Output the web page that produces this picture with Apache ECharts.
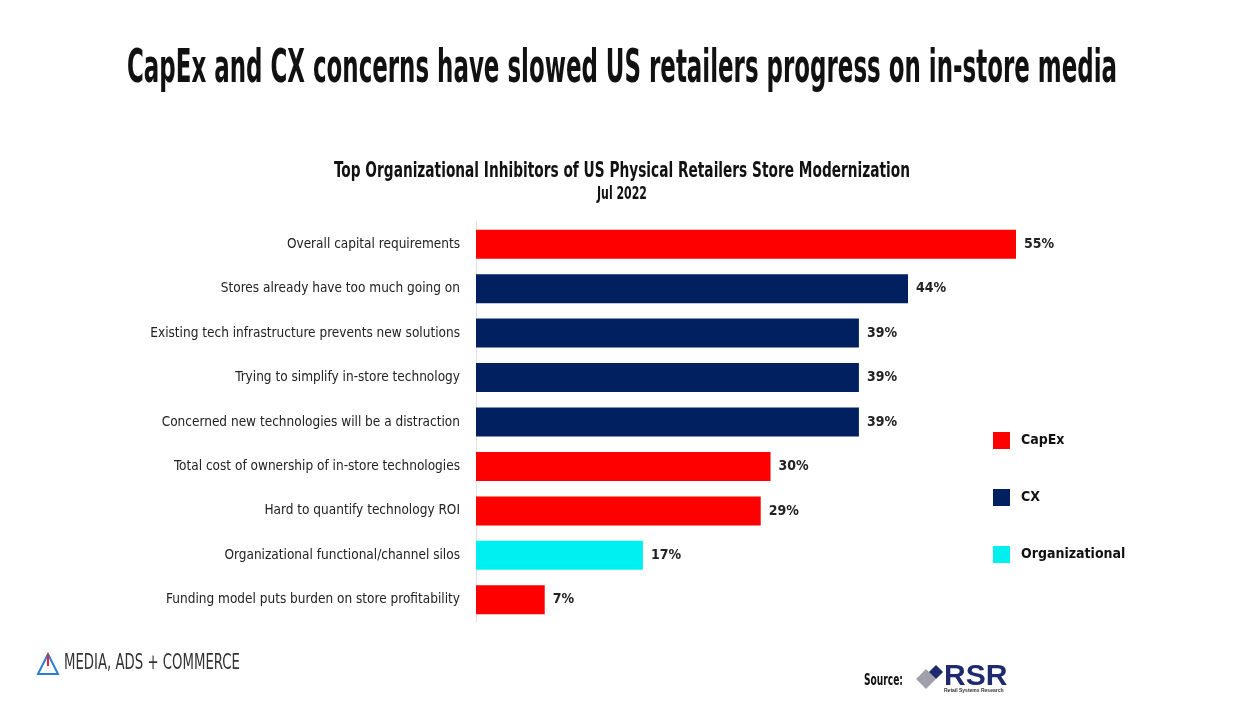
<!DOCTYPE html>
<html><head><meta charset="utf-8">
<script src="https://cdn.jsdelivr.net/npm/echarts@6/dist/echarts.min.js"></script>
<style>html,body{margin:0;padding:0;background:#fff}#c{width:1249px;height:702px}</style>
</head><body><div id="c"></div>
<script>
const categories = [
  "Overall capital requirements",
  "Stores already have too much going on",
  "Existing tech infrastructure prevents new solutions",
  "Trying to simplify in-store technology",
  "Concerned new technologies will be a distraction",
  "Total cost of ownership of in-store technologies",
  "Hard to quantify technology ROI",
  "Organizational functional/channel silos",
  "Funding model puts burden on store profitability"
];
const values = [55, 44, 39, 39, 39, 30, 29, 17, 7];
const groups = ["CapEx", "CX", "CX", "CX", "CX", "CapEx", "CapEx", "Organizational", "CapEx"];
const seriesNames = ["CapEx", "CX", "Organizational"];
const seriesColors = ["#ff0000", "#002060", "#00f0f0"];
const mainTitle = "CapEx and CX concerns have slowed US retailers progress on in-store media";
const chartTitle = "Top Organizational Inhibitors of US Physical Retailers Store Modernization";
const chartSubtitle = "Jul 2022";

const FONT = '"DejaVu Sans Condensed","Liberation Sans Narrow","Liberation Sans",sans-serif';
const mctx = document.createElement('canvas').getContext('2d');
function fitScale(text, font, target) { mctx.font = font; return target / mctx.measureText(text).width; }
function squeezed(text, font, cx, topY, targetW, fill) {
  const s = fitScale(text, font, targetW);
  return {type: 'text', x: cx, y: topY, scaleX: s, originX: 0,
          style: {text: text, font: font, fill: fill, textAlign: 'center', textVerticalAlign: 'top'}};
}

const chart = echarts.init(document.getElementById('c'), null, {renderer: 'canvas'});
const series = seriesNames.map((name, si) => ({
  name: name,
  type: 'bar',
  stack: 'all',
  barWidth: 29,
  itemStyle: {color: seriesColors[si]},
  label: {show: true, position: 'right', distance: 8, formatter: p => p.value + '%',
          fontFamily: FONT, fontWeight: 'bold', fontSize: 14, color: '#222'},
  data: values.map((v, i) => groups[i] === name ? v : '-')
}));
const fTitle = 'bold 46px ' + FONT;
const fSub = 'bold 22px ' + FONT;
const fSub2 = 'bold 17px ' + FONT;
const fLogo = '21px ' + FONT;
chart.setOption({
  animation: false,
  backgroundColor: '#fff',
  legend: {
    orient: 'vertical', left: 988, top: 427, itemGap: 40, itemWidth: 17, itemHeight: 17,
    icon: 'rect', data: seriesNames,
    textStyle: {fontFamily: FONT, fontWeight: 'bold', fontSize: 14, color: '#111', padding: [0,0,0,6]}
  },
  grid: {left: 476, top: 222, width: 540, height: 400, containLabel: false},
  xAxis: {type: 'value', min: 0, max: 55, show: false},
  yAxis: {type: 'category', data: categories, inverse: true,
    axisLine: {show: true, lineStyle: {color: '#e0e0e0', width: 1}},
    axisTick: {show: false},
    axisLabel: {margin: 16, fontFamily: FONT, fontSize: 13.5, color: '#222'}},
  series: series,
  graphic: [
    squeezed(mainTitle, fTitle, 622, 47, 990, '#111'),
    squeezed(chartTitle, fSub, 622, 160, 576, '#111'),
    squeezed(chartSubtitle, fSub2, 622, 186, 50, '#111'),
    {type: 'polygon', shape: {points: [[48,654],[38,674],[58,674]]}, style: {fill: 'none', stroke: '#2a7fd4', lineWidth: 2}},
    {type: 'line', shape: {x1: 48, y1: 666, x2: 48, y2: 654}, style: {stroke: '#e23', lineWidth: 2}},
    {type: 'text', x: 64, y: 653, scaleX: fitScale('MEDIA, ADS + COMMERCE', fLogo, 176),
     style: {text: 'MEDIA, ADS + COMMERCE', font: fLogo, fill: '#333', textVerticalAlign: 'top'}},
    {type: 'text', x: 864, y: 674, scaleX: fitScale('Source:', 'bold 15px ' + FONT, 39),
     style: {text: 'Source:', font: 'bold 15px ' + FONT, fill: '#111', textVerticalAlign: 'top'}},
    {type: 'rect', shape: {x: -7, y: -7, width: 14, height: 14}, x: 926, y: 679, rotation: Math.PI/4, style: {fill: '#a0a0ac'}},
    {type: 'rect', shape: {x: -5, y: -5, width: 10, height: 10}, x: 936, y: 672, rotation: Math.PI/4, style: {fill: '#1f2a6e'}},
    {type: 'text', x: 944, y: 662, style: {text: 'RSR', font: 'bold 30px "Liberation Sans",Arial,sans-serif', fill: '#1f2a6e', textVerticalAlign: 'top'}},
    {type: 'text', x: 944, y: 688, style: {text: 'Retail Systems Research', font: 'bold 5px "Liberation Sans",sans-serif', fill: '#333', textVerticalAlign: 'top'}}
  ]
});
</script></body></html>
